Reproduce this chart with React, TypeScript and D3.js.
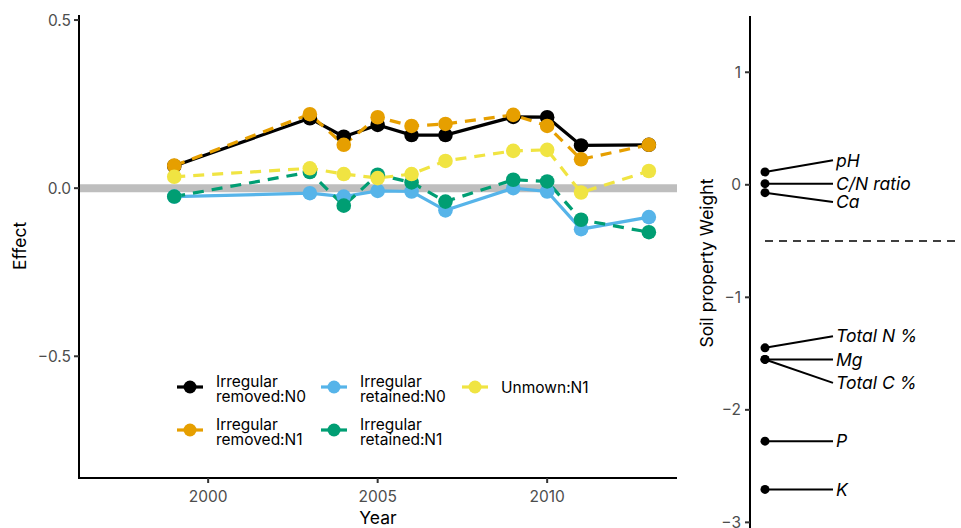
import React from "react";
import * as d3 from "d3";

const years = [1999, 2003, 2004, 2005, 2006, 2007, 2009, 2010, 2011, 2013];
const seriesNames = [
  "Irregular removed:N0",
  "Irregular removed:N1",
  "Irregular retained:N0",
  "Irregular retained:N1",
  "Unmown:N1",
];
const removedN0 = [0.066, 0.208, 0.153, 0.188, 0.158, 0.158, 0.212, 0.211, 0.127, 0.129];
const removedN1 = [0.067, 0.22, 0.129, 0.211, 0.185, 0.191, 0.218, 0.185, 0.086, 0.129];
const retainedN0 = [-0.025, -0.015, -0.025, -0.008, -0.01, -0.066, 0.0, -0.01, -0.122, -0.086];
const retainedN1 = [-0.025, 0.048, -0.052, 0.04, 0.017, -0.04, 0.025, 0.02, -0.094, -0.131];
const unmownN1 = [0.034, 0.059, 0.042, 0.03, 0.042, 0.081, 0.111, 0.114, -0.013, 0.051];
const seriesValues = [removedN0, removedN1, retainedN0, retainedN1, unmownN1];
const seriesColors = ["#000000", "#E69F00", "#56B4E9", "#009E73", "#F0E442"];
const seriesDashed = [false, true, false, true, true];
const legendLines = [
  ["Irregular", "removed:N0"],
  ["Irregular", "removed:N1"],
  ["Irregular", "retained:N0"],
  ["Irregular", "retained:N1"],
  ["Unmown:N1"],
];
const effectTicks = [0.5, 0.0, -0.5];
const yearTicks = [2000, 2005, 2010];

const soilProps = ["pH", "C/N ratio", "Ca", "Total N %", "Mg", "Total C %", "P", "K"];
const soilWeights = [0.114, 0.01, -0.07, -1.449, -1.552, -1.552, -2.278, -2.707];
const soilLabelPos = [0.218, 0.01, -0.153, -1.345, -1.552, -1.76, -2.278, -2.707];
const weightTicks = [1, 0, -1, -2, -3];
const cutoff = -0.5;

const FONT = "Inter, 'Liberation Sans', Arial, sans-serif";
const fmtMinus = (s: string) => s.replace("-", "\u2212");

export default function App() {
  const W = 961, H = 528;
  // left panel
  const x = d3.scaleLinear().domain([1996.19, 2013.83]).range([79, 677]);
  const y = d3.scaleLinear().domain([-0.862, 0.515]).range([478, 15]);
  const line = d3.line<number>().x((_, i) => x(years[i])).y((v) => y(v));
  // right panel
  const yw = d3.scaleLinear().domain([-3.05, 1.5]).range([528, 16]);
  const axR = 750;
  const ptX = 765;
  const lblX = 833;

  const legendPos = [
    [190, 387],
    [190, 430],
    [334, 387],
    [334, 430],
    [475, 387],
  ];

  return (
    <svg width={W} height={H} style={{ position: "absolute", left: 0, top: 0, background: "#fff" }} fontFamily={FONT}>
      <rect width={W} height={H} fill="#fff" />
      {/* zero line */}
      <line x1={79} x2={677} y1={y(0)} y2={y(0)} stroke="#bebebe" strokeWidth={8} />
      {/* series lines */}
      {seriesValues.map((vals, k) => (
        <path
          key={"l" + k}
          d={line(vals) || ""}
          fill="none"
          stroke={seriesColors[k]}
          strokeWidth={3.2}
          strokeDasharray={seriesDashed[k] ? "11,8" : undefined}
        />
      ))}
      {seriesValues.map((vals, k) =>
        vals.map((v, i) => (
          <circle key={"p" + k + "-" + i} cx={x(years[i])} cy={y(v)} r={7.3} fill={seriesColors[k]} />
        ))
      )}
      {/* left axes */}
      <line x1={79} x2={79} y1={15} y2={479} stroke="#000" strokeWidth={2} />
      <line x1={78} x2={677} y1={478} y2={478} stroke="#000" strokeWidth={2} />
      {effectTicks.map((t) => (
        <g key={"et" + t}>
          <line x1={74} x2={79} y1={y(t)} y2={y(t)} stroke="#333" strokeWidth={2} />
          <text x={71} y={y(t)} dy="0.36em" textAnchor="end" fontSize={15.5} fill="#4d4d4d">
            {fmtMinus(t.toFixed(1))}
          </text>
        </g>
      ))}
      {yearTicks.map((t) => (
        <g key={"yt" + t}>
          <line x1={x(t)} x2={x(t)} y1={478} y2={483} stroke="#333" strokeWidth={2} />
          <text x={x(t)} y={502} textAnchor="middle" fontSize={15.5} fill="#4d4d4d">
            {t}
          </text>
        </g>
      ))}
      <text x={378} y={524} textAnchor="middle" fontSize={17.5} fill="#000">Year</text>
      <text transform={`translate(26,${246}) rotate(-90)`} textAnchor="middle" fontSize={17.5} fill="#000">Effect</text>
      {/* legend */}
      {seriesNames.map((n, k) => {
        const [lx, ly] = legendPos[k];
        const lines = legendLines[k];
        return (
          <g key={"lg" + k}>
            <line x1={lx - 13} x2={lx + 13} y1={ly} y2={ly} stroke={seriesColors[k]} strokeWidth={3.2} />
            <circle cx={lx} cy={ly} r={6.5} fill={seriesColors[k]} />
            {lines.length === 1 ? (
              <text x={lx + 26} y={ly + 6} fontSize={15.5} fill="#000">{lines[0]}</text>
            ) : (
              <text fontSize={15.5} fill="#000">
                <tspan x={lx + 26} y={ly - 0.5}>{lines[0]}</tspan>
                <tspan x={lx + 26} y={ly + 14.5}>{lines[1]}</tspan>
              </text>
            )}
          </g>
        );
      })}

      {/* right panel */}
      <line x1={ptX} x2={W} y1={yw(cutoff)} y2={yw(cutoff)} stroke="#000" strokeWidth={1.6} strokeDasharray="8,6" />
      <line x1={axR} x2={axR} y1={16} y2={528} stroke="#000" strokeWidth={2} />
      {weightTicks.map((t) => (
        <g key={"wt" + t}>
          <line x1={745} x2={axR} y1={yw(t)} y2={yw(t)} stroke="#333" strokeWidth={2} />
          <text x={741} y={yw(t)} dy="0.36em" textAnchor="end" fontSize={15.5} fill="#4d4d4d">
            {fmtMinus(String(t))}
          </text>
        </g>
      ))}
      <text transform={`translate(713,${263}) rotate(-90)`} textAnchor="middle" fontSize={17.5} fill="#000">
        Soil property Weight
      </text>
      {soilProps.map((p, i) => (
        <g key={"sp" + i}>
          <line x1={ptX} x2={lblX} y1={yw(soilWeights[i])} y2={yw(soilLabelPos[i])} stroke="#000" strokeWidth={2} />
          <circle cx={ptX} cy={yw(soilWeights[i])} r={4.5} fill="#000" />
          <text x={lblX + 3} y={yw(soilLabelPos[i])} dy="0.36em" fontSize={17.5} fontStyle="italic" fill="#000">
            {p}
          </text>
        </g>
      ))}
    </svg>
  );
}
